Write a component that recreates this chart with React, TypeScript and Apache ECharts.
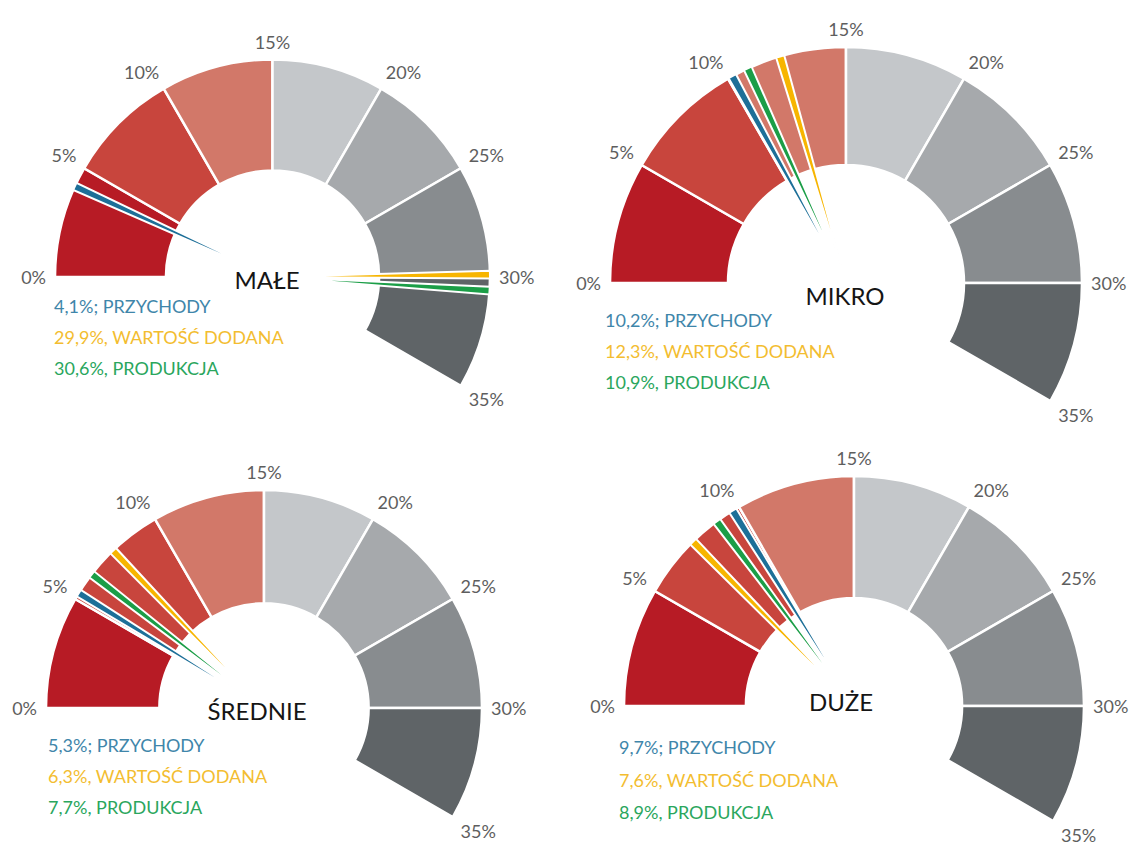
import React, { useEffect, useRef } from "react";
import * as echarts from "echarts";

// ---------- data ----------
const bandStarts = [0, 5, 10, 15, 20, 25, 30];
const bandEnds = [5, 10, 15, 20, 25, 30, 35];
const bandColors = ["#b71b25", "#c8453d", "#d27869", "#c4c7ca", "#a6a9ac", "#888c8f", "#5f6467"];

const chartNames = ["MAŁE", "MIKRO", "ŚREDNIE", "DUŻE"];

// needle values in order: [blue (PRZYCHODY), yellow (WARTOŚĆ DODANA), green (PRODUKCJA)] as drawn
const maleNeedles = [4.1, 29.9, 30.6];
const mikroNeedles = [10.2, 12.3, 10.9];
const sredNeedles = [5.3, 7.7, 6.3];
const duzeNeedles = [9.7, 7.6, 8.9];

const maleLabels = ["4,1%; PRZYCHODY", "29,9%, WARTOŚĆ DODANA", "30,6%, PRODUKCJA"];
const mikroLabels = ["10,2%; PRZYCHODY", "12,3%, WARTOŚĆ DODANA", "10,9%, PRODUKCJA"];
const sredLabels = ["5,3%; PRZYCHODY", "6,3%, WARTOŚĆ DODANA", "7,7%, PRODUKCJA"];
const duzeLabels = ["9,7%; PRZYCHODY", "7,6%, WARTOŚĆ DODANA", "8,9%, PRODUKCJA"];

const needleColors = ["#1d6f98", "#f7b500", "#1b9e47"];
const legendColors = ["#3f86aa", "#f3bd30", "#2aa65d"];

const allNeedles = [maleNeedles, mikroNeedles, sredNeedles, duzeNeedles];
const allLabels = [maleLabels, mikroLabels, sredLabels, duzeLabels];

// ---------- layout ----------
const layouts = [
  { cx: 272.5, cy: 277, R: 217.5, inner: 0.49, title: [267, 279], legend: [54, 306] },
  { cx: 846, cy: 283, R: 236, inner: 0.5, title: [845, 295], legend: [605, 320] },
  { cx: 264, cy: 708, R: 218, inner: 0.48, title: [257, 710], legend: [48, 745] },
  { cx: 854, cy: 706, R: 230, inner: 0.47, title: [841, 701], legend: [619, 747] },
];
const FONT = "Lato, 'Open Sans', sans-serif";
const NEEDLE_HALF = 0.17;
const LEGEND_STEP = [31, 31, 31, 32.5];

function angleOf(api: any, cs: any, v: number) {
  const p = api.coord([1, v]);
  return Math.atan2(p[1] - cs.cy, p[0] - cs.cx);
}

export default function App() {
  const ref = useRef<HTMLDivElement>(null);
  useEffect(() => {
    document.body.style.margin = "0";
    if (!ref.current) return;
    const chart = echarts.init(ref.current, undefined, { renderer: "svg" });

    const polar = layouts.map((l) => ({ center: [l.cx, l.cy], radius: [0, l.R] }));
    const angleAxis = layouts.map((l, i) => ({
      polarIndex: i,
      type: "value",
      min: 0,
      max: 60,
      interval: 5,
      startAngle: 180,
      clockwise: true,
      axisLine: { show: false },
      axisTick: { show: false },
      splitLine: { show: false },
      axisLabel: {
        margin: 9,
        color: "#5e5e5e",
        fontSize: 18,
        fontFamily: FONT,
        formatter: (v: number) => (v <= 35 ? v + "%" : ""),
      },
    }));
    const radiusAxis = layouts.map((l, i) => ({ polarIndex: i, type: "value", min: 0, max: 1, show: false }));

    const series: any[] = [];
    layouts.forEach((l, i) => {
      series.push({
        type: "custom",
        coordinateSystem: "polar",
        polarIndex: i,
        z: 2,
        silent: true,
        data: bandStarts.map((s, k) => [s, bandEnds[k], k]),
        renderItem: (params: any, api: any) => {
          const cs = params.coordSys;
          const a0 = angleOf(api, cs, api.value(0));
          let a1 = angleOf(api, cs, api.value(1));
          while (a1 <= a0) a1 += 2 * Math.PI;
          return {
            type: "sector",
            shape: { cx: cs.cx, cy: cs.cy, r0: cs.r * l.inner, r: cs.r, startAngle: a0, endAngle: a1, clockwise: true },
            style: { fill: bandColors[api.value(2)], stroke: "#ffffff", lineWidth: 2.5 },
          };
        },
      });
      series.push({
        type: "custom",
        coordinateSystem: "polar",
        polarIndex: i,
        z: 3,
        silent: true,
        data: allNeedles[i].map((v, k) => [v, k]),
        renderItem: (params: any, api: any) => {
          const cs = params.coordSys;
          const v = api.value(0);
          const a0 = angleOf(api, cs, v - NEEDLE_HALF);
          let a1 = angleOf(api, cs, v + NEEDLE_HALF);
          while (a1 <= a0) a1 += 2 * Math.PI;
          return {
            type: "sector",
            shape: { cx: cs.cx, cy: cs.cy, r0: 0, r: cs.r, startAngle: a0, endAngle: a1, clockwise: true },
            style: { fill: needleColors[api.value(1)], stroke: "#ffffff", lineWidth: 2 },
          };
        },
      });
    });

    const graphic: any[] = [];
    layouts.forEach((l, i) => {
      graphic.push({
        type: "text",
        x: l.title[0],
        y: l.title[1],
        z: 100,
        style: {
          text: chartNames[i],
          fill: "#151515",
          fontSize: 24,
          fontFamily: FONT,
          align: "center",
          verticalAlign: "middle",
        },
      });
      allLabels[i].forEach((t, k) => {
        graphic.push({
          type: "text",
          x: l.legend[0],
          y: l.legend[1] + k * LEGEND_STEP[i],
          z: 100,
          style: {
            text: t,
            fill: legendColors[k],
            fontSize: 18,
            fontFamily: FONT,
            align: "left",
            verticalAlign: "middle",
          },
        });
      });
    });

    chart.setOption({
      animation: false,
      backgroundColor: "#ffffff",
      polar,
      angleAxis,
      radiusAxis,
      series,
      graphic,
    });
    return () => chart.dispose();
  }, []);
  return <div ref={ref} style={{ width: 1138, height: 845 }} />;
}
